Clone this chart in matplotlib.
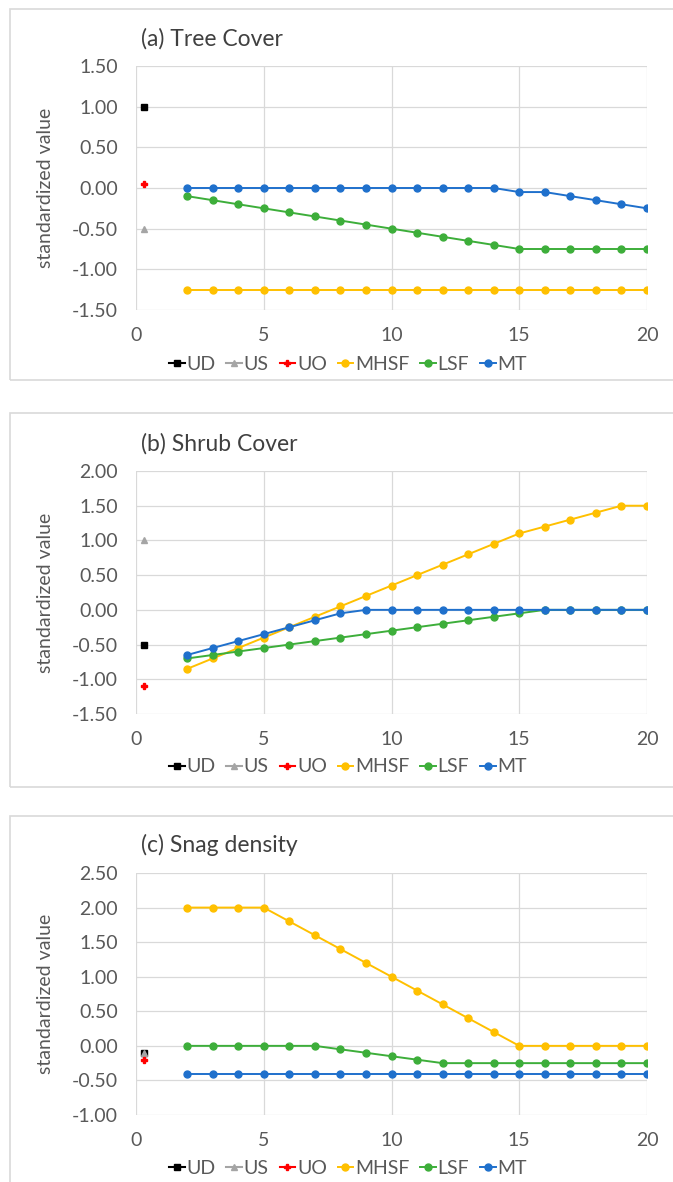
import matplotlib
matplotlib.use("Agg")
import matplotlib.pyplot as plt
from matplotlib.patches import Rectangle

plt.rcParams['font.family'] = ['Lato', 'DejaVu Sans']

# x positions
years = list(range(2, 21))
x_single = 0.3

# (a) Tree cover
a_ud, a_us, a_uo = 1.0, -0.5, 0.05
a_mhsf = [-1.25] * 19
a_lsf = [-0.1, -0.15, -0.2, -0.25, -0.3, -0.35, -0.4, -0.45, -0.5, -0.55,
         -0.6, -0.65, -0.7, -0.75, -0.75, -0.75, -0.75, -0.75, -0.75]
a_mt = [0, 0, 0, 0, 0, 0, 0, 0, 0, 0, 0, 0, 0, -0.05, -0.05, -0.1, -0.15, -0.2, -0.25]

# (b) Shrub cover
b_ud, b_us, b_uo = -0.5, 1.0, -1.1
b_mhsf = [-0.85, -0.7, -0.55, -0.4, -0.25, -0.1, 0.05, 0.2, 0.35, 0.5,
          0.65, 0.8, 0.95, 1.1, 1.2, 1.3, 1.4, 1.5, 1.5]
b_lsf = [-0.7, -0.65, -0.6, -0.55, -0.5, -0.45, -0.4, -0.35, -0.3, -0.25,
         -0.2, -0.15, -0.1, -0.05, 0, 0, 0, 0, 0]
b_mt = [-0.65, -0.55, -0.45, -0.35, -0.25, -0.15, -0.05, 0, 0, 0,
        0, 0, 0, 0, 0, 0, 0, 0, 0]

# (c) Snag density
c_ud, c_us, c_uo = -0.1, -0.1, -0.2
c_mhsf = [2.0, 2.0, 2.0, 2.0, 1.8, 1.6, 1.4, 1.2, 1.0, 0.8,
          0.6, 0.4, 0.2, 0, 0, 0, 0, 0, 0]
c_lsf = [0, 0, 0, 0, 0, 0, -0.05, -0.1, -0.15, -0.2,
         -0.25, -0.25, -0.25, -0.25, -0.25, -0.25, -0.25, -0.25, -0.25]
c_mt = [-0.4] * 19

panels = [
    ("(a) Tree Cover", a_ud, a_us, a_uo, a_mhsf, a_lsf, a_mt, (-1.5, 1.5), [-1.5, -1, -0.5, 0, 0.5, 1, 1.5]),
    ("(b) Shrub Cover", b_ud, b_us, b_uo, b_mhsf, b_lsf, b_mt, (-1.5, 2.0), [-1.5, -1, -0.5, 0, 0.5, 1, 1.5, 2]),
    ("(c) Snag density", c_ud, c_us, c_uo, c_mhsf, c_lsf, c_mt, (-1.0, 2.5), [-1, -0.5, 0, 0.5, 1, 1.5, 2, 2.5]),
]

W, H = 673, 1182
# pixel layout: (axes top, axes bottom, title y, legend y, box top, box bottom)
layout = [
    (66, 310, 39, 364, 9, 380),
    (471, 714, 444, 767, 413, 787),
    (873, 1115, 845, 1168, 816, 1200),
]

c_mhsf_col = '#FFC000'
c_lsf_col = '#3DAE3A'
c_mt_col = '#1F70CC'
grid_col = '#D9D9D9'
text_col = '#595959'

fig = plt.figure(figsize=(W / 100, H / 100), dpi=100)

for (title, ud, us, uo, mhsf, lsf, mt, ylim, yticks), (top, bot, ty, ly, bt, bb) in zip(panels, layout):
    fig.patches.append(Rectangle((10 / W, 1 - bb / H), (W + 20) / W, (bb - bt) / H,
                                 transform=fig.transFigure, fill=False,
                                 edgecolor='#D9D9D9', linewidth=1.2))
    ax = fig.add_axes([136 / W, 1 - bot / H, 511 / W, (bot - top) / H])
    ax.plot([x_single], [ud], marker='s', color='black', markersize=4, linestyle='-', label='UD')
    ax.plot([x_single], [us], marker='^', color='#A5A5A5', markersize=4.5, linestyle='-', label='US')
    ax.plot([x_single], [uo], marker='P', color='#FF0000', markersize=4, linestyle='-', label='UO')
    ax.plot(years, mhsf, marker='o', color=c_mhsf_col, markersize=5, linewidth=1.4, label='MHSF')
    ax.plot(years, lsf, marker='o', color=c_lsf_col, markersize=5, linewidth=1.4, label='LSF')
    ax.plot(years, mt, marker='o', color=c_mt_col, markersize=5, linewidth=1.4, label='MT')

    ax.set_xlim(0, 20)
    ax.set_ylim(*ylim)
    ax.set_xticks([0, 5, 10, 15, 20])
    ax.set_yticks(yticks)
    ax.set_yticklabels([f"{v:.2f}" for v in yticks])
    ax.grid(True, color=grid_col, linewidth=0.9)
    ax.set_axisbelow(True)
    for s in ax.spines.values():
        s.set_visible(False)
    ax.tick_params(length=0, labelsize=14, colors=text_col)
    ax.tick_params(axis='y', pad=13)
    ax.tick_params(axis='x', pad=12)
    ax.set_ylabel('standardized value', fontsize=14, color=text_col, labelpad=13)

    fig.text(141 / W, 1 - ty / H, title, fontsize=16.5, color='#404040', va='center', ha='left')
    fig.legend(*ax.get_legend_handles_labels(), loc='center', bbox_to_anchor=(348 / W, 1 - ly / H),
               ncol=6, frameon=False, fontsize=14, handlelength=0.8, handletextpad=0.1,
               columnspacing=0.55, labelcolor=text_col, borderaxespad=0)

fig.savefig('out.png', dpi=100)
